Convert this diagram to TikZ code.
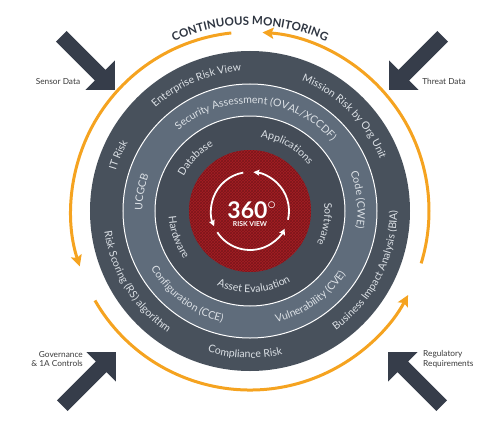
\documentclass[tikz,border=0pt]{standalone}
\usepackage{fontspec}
\setmainfont{Lato}
\usepackage{tikz}
\usetikzlibrary{arrows.meta, decorations.text, patterns}

\definecolor{ringdark}{HTML}{48515C}
\definecolor{ringmid}{HTML}{5F6C7B}
\definecolor{ringinner}{HTML}{444C57}
\definecolor{riskred}{HTML}{A51E24}
\definecolor{looporange}{HTML}{F5A320}
\definecolor{arrowgrey}{HTML}{363D4A}
\definecolor{ringtext}{HTML}{DCE1E6}
\definecolor{titletext}{HTML}{2E3541}
\definecolor{sidetext}{HTML}{3A3A3A}

\newcommand{\ringfont}{\fontsize{10.5}{11}\selectfont}
% ring labels: clockwise (tops out) and counter-clockwise (tops in)
\newcommand{\cwtext}[3]{\path[decorate, decoration={text along path, text={|\ringfont|#3}, text color=ringtext, text align=center}] ({#2+80}:#1) arc[start angle=#2+80, end angle=#2-80, radius=#1];}
\newcommand{\ccwtext}[3]{\path[decorate, decoration={text along path, text={|\ringfont|#3}, text color=ringtext, text align=center}] ({#2-80}:#1) arc[start angle=#2-80, end angle=#2+80, radius=#1];}
% input arrows, tip at #1 pointing to #2
\newcommand{\inputarrow}[2]{\fill[arrowgrey, shift={#1}, rotate=#2] (0,0) -- (-21,21) -- (-21,7.5) -- (-76,7.5) -- (-76,-7.5) -- (-21,-7.5) -- (-21,-21) -- cycle;}

\begin{document}
\begin{tikzpicture}[x=1pt, y=1pt,
    loop/.style={looporange, line width=3pt, -{Stealth[length=11pt, width=11pt, inset=2pt]}},
    innerloop/.style={white, line width=1.8pt, -{Stealth[length=6pt, width=6pt, inset=1pt]}},
    sidelabel/.style={font=\fontsize{8.3}{9.5}\selectfont, text=sidetext, inner sep=0pt}]
  \useasboundingbox (-250,-223) rectangle (253,211);

  % Continuous monitoring loop
  \draw[loop] (96:179) arc[start angle=96, end angle=198, radius=179];
  \draw[loop] (210:179) arc[start angle=210, end angle=332, radius=179];
  \draw[loop] (343:179) arc[start angle=343, end angle=446, radius=179];
  \path[decorate, decoration={text along path, text={|\fontsize{11.5}{12}\bfseries|CONTINUOUS MONITORING}, text color=titletext, text align=center}] (170:186) arc[start angle=170, end angle=10, radius=186];

  % Rings
  \fill[ringdark] (0,0) circle (160);
  \fill[ringmid] (0,0) circle (127);
  \draw[white, line width=1pt] (0,0) circle (127);
  \fill[ringinner] (0,0) circle (95);
  \draw[white, line width=1pt] (0,0) circle (95);
  \fill[riskred] (0,0) circle (61);
  \fill[pattern=crosshatch, pattern color=riskred!75!black] (0,0) circle (61);

  % 360 risk view
  \draw[innerloop] (100:39) arc[start angle=100, end angle=203, radius=39];
  \draw[innerloop] (213:39) arc[start angle=213, end angle=333, radius=39];
  \draw[innerloop] (347:39) arc[start angle=347, end angle=445, radius=39];
  \node[font=\fontsize{23}{23}\selectfont\bfseries, text=white, inner sep=0pt] (threesixty) at (2,1) {360$^{\circ}$};
  \node[font=\fontsize{6.8}{7}\selectfont\bfseries, text=white, inner sep=0pt] (riskview) at (0,-13.5) {RISK VIEW};

  % Outer ring
  \cwtext{140}{113}{Enterprise Risk View}
  \cwtext{140}{45}{Mission Risk by Org Unit}
  \cwtext{140}{157}{IT Risk}
  \ccwtext{147}{212}{Risk Scoring (RS) algorithm}
  \ccwtext{147}{268}{Compliance Risk}
  \ccwtext{147}{333}{Business Impact Analysis (BIA)}

  % Middle ring
  \cwtext{107.5}{86}{Security Assessment (OVAL/XCCDF)}
  \cwtext{107.5}{170}{UCGCB}
  \cwtext{107.5}{6}{Code (CWE)}
  \ccwtext{114.5}{233}{Configuration (CCE)}
  \ccwtext{114.5}{305}{Vulnerability (CVE)}

  % Inner ring
  \cwtext{74.5}{136}{Database}
  \cwtext{74.5}{60}{Applications}
  \cwtext{74.5}{-10}{Software}
  \ccwtext{81.5}{200}{Hardware}
  \ccwtext{81.5}{273}{Asset Evaluation}

  % Inputs
  \inputarrow{(-135,121)}{-45}
  \inputarrow{(139,121)}{-135}
  \inputarrow{(-134,-141)}{45}
  \inputarrow{(138,-141)}{135}
  \node[sidelabel] (sensor) at (-192,129) {Sensor Data};
  \node[sidelabel] (threat) at (194,130) {Threat Data};
  \node[sidelabel, anchor=east, align=right] (governance) at (-167,-148) {Governance\\\& 1A Controls};
  \node[sidelabel, anchor=west, align=left] (regulatory) at (173,-148) {Regulatory\\Requirements};
\end{tikzpicture}
\end{document}
